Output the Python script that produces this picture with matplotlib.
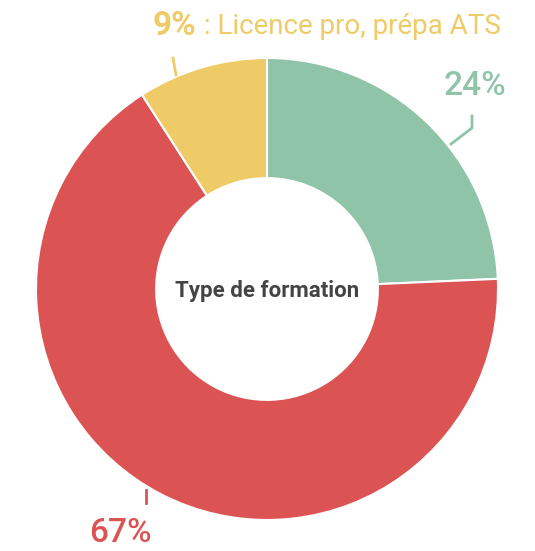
import matplotlib
matplotlib.use('Agg')
import matplotlib.pyplot as plt

# data
labels = ['Autre', 'BUT / BTS', 'Licence pro, prépa ATS']
values = [24.3, 66.6, 9.1]
pct_labels = ['24%', '67%', '9%']
colors = ['#8FC4A8', '#DC5354', '#EFCB68']
title = 'Type de formation'

plt.rcParams['font.family'] = ['Roboto', 'DejaVu Sans']

W, H = 535, 551
fig = plt.figure(figsize=(W / 100, H / 100), dpi=100)
ax = fig.add_axes([0, 0, 1, 1])

cx, cy = 267, H - 289
R = 231
ax.pie(values, colors=colors, startangle=90, counterclock=False,
       center=(cx, cy), radius=R, frame=True,
       wedgeprops=dict(width=R * 0.52, edgecolor='white', linewidth=1.5))
ax.set_xlim(0, W)
ax.set_ylim(0, H)
ax.set_aspect('equal')
ax.axis('off')

ax.text(cx, cy - 2, title, ha='center', va='center', fontsize=16,
        fontweight='bold', color='#444444')

# leader lines
ax.plot([451, 472, 472], [H - 144, H - 128, H - 116], color=colors[0], lw=2)
ax.plot([146, 146], [H - 490, H - 503], color=colors[1], lw=2)
ax.plot([176, 173], [H - 75, H - 58], color=colors[2], lw=2)

ax.text(475, H - 86, pct_labels[0], ha='center', va='center',
        fontsize=24, fontweight='medium', color=colors[0])
ax.text(120, H - 533, pct_labels[1], ha='center', va='center',
        fontsize=24, fontweight='medium', color=colors[1])
ax.text(153, H - 35, pct_labels[2], ha='left', va='baseline',
        fontsize=24, fontweight='bold', color=colors[2])
ax.text(204, H - 34, ': ' + labels[2], ha='left', va='baseline',
        fontsize=20, color=colors[2])

fig.savefig('out.png', dpi=100)
